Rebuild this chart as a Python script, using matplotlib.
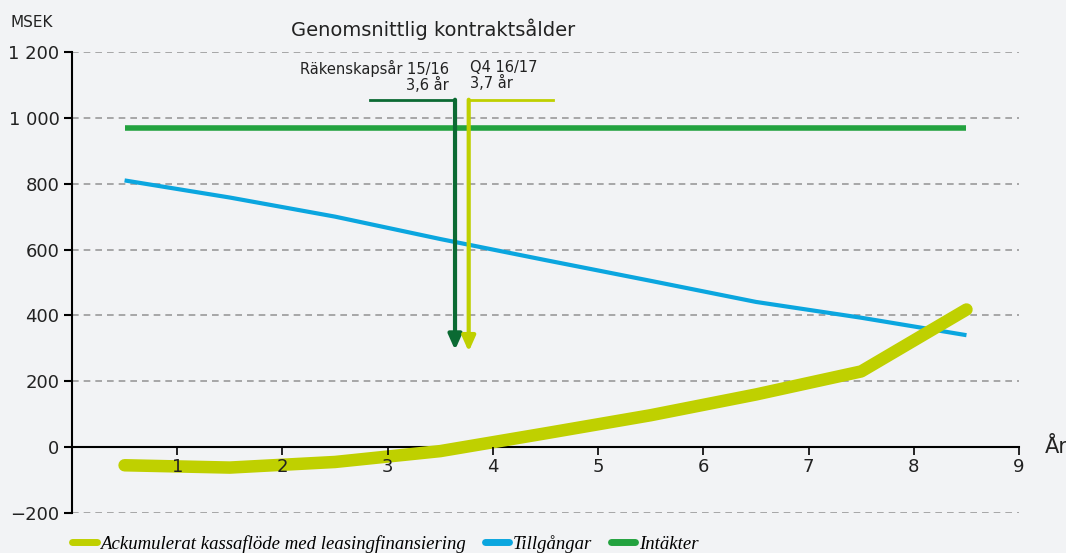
import matplotlib
matplotlib.use("Agg")
import matplotlib.pyplot as plt
from matplotlib.lines import Line2D

# data
years = [0.5, 1.5, 2.5, 3.5, 4.5, 5.5, 6.5, 7.5, 8.5]
kassaflode = [-55, -62, -45, -12, 42, 97, 160, 230, 418]
tillgangar = [810, 758, 700, 632, 568, 505, 441, 393, 340]
intakter = [970, 970, 970, 970, 970, 970, 970, 970, 970]
yticks = [-200, 0, 200, 400, 600, 800, 1000, 1200]
ytick_labels = ["\u2212200", "0", "200", "400", "600", "800", "1 000", "1 200"]
xticks = [1, 2, 3, 4, 5, 6, 7, 8, 9]
alder_fy = 3.64   # Räkenskapsår 15/16, 3,6 år (as drawn)
alder_q4 = 3.77   # Q4 16/17, 3,7 år (as drawn)

bg = "#f2f3f5"
c_kassa = "#bfd000"
c_till = "#0ba6df"
c_int = "#23a23f"
c_dark = "#0b6a33"

fig = plt.figure(figsize=(10.66, 5.53), dpi=100, facecolor=bg)
ax = fig.add_axes([0.0675, 0.0723, 0.8885, 0.8337], facecolor=bg)

ax.set_xlim(0, 9)
ax.set_ylim(-200, 1200)

for y in yticks:
    if y != 0:
        ax.axhline(y, color="#9a9a9a", lw=1.2, ls=(0, (4, 3)), zorder=1)

ax.plot(years, intakter, color=c_int, lw=4, solid_capstyle="butt", zorder=3)
ax.plot(years, tillgangar, color=c_till, lw=3, solid_capstyle="butt", zorder=3)
ax.plot(years, kassaflode, color=c_kassa, lw=9, solid_capstyle="round", zorder=4)

# contract age arrows
ax.plot([2.83, alder_fy], [1055, 1055], color=c_dark, lw=2, zorder=5,
        solid_capstyle="projecting")
ax.annotate("", xy=(alder_fy, 295), xytext=(alder_fy, 1055),
            arrowprops=dict(arrowstyle="-|>,head_width=0.4,head_length=0.9",
                            color=c_dark, lw=3, shrinkA=0, shrinkB=0), zorder=5)
ax.plot([alder_q4, 4.57], [1055, 1055], color=c_kassa, lw=2, zorder=5,
        solid_capstyle="projecting")
ax.annotate("", xy=(alder_q4, 290), xytext=(alder_q4, 1055),
            arrowprops=dict(arrowstyle="-|>,head_width=0.4,head_length=0.9",
                            color=c_kassa, lw=3, shrinkA=0, shrinkB=0), zorder=5)

ax.text(3.58, 1175, "Räkenskapsår 15/16\n3,6 år", ha="right", va="top",
        fontsize=10.5, linespacing=0.95, color="#222222")
ax.text(3.78, 1175, "Q4 16/17\n3,7 år", ha="left", va="top",
        fontsize=10.5, linespacing=0.95, color="#222222")

# axes styling
for s in ["top", "right"]:
    ax.spines[s].set_visible(False)
ax.spines["bottom"].set_position(("data", 0))
ax.spines["bottom"].set_linewidth(1.5)
ax.spines["left"].set_linewidth(1.5)
ax.set_yticks(yticks)
ax.set_yticklabels(ytick_labels, fontsize=13, color="#222222")
ax.set_xticks(xticks)
ax.set_xticklabels([str(x) for x in xticks], fontsize=13, color="#222222")
ax.tick_params(axis="y", length=6, width=1.5, pad=3)
ax.tick_params(axis="x", length=6, width=1.2, pad=2)
ax.xaxis.set_zorder(6)

fig.text(0.0094, 0.96, "MSEK", fontsize=11, color="#222222", va="center")
fig.text(0.406, 0.947, "Genomsnittlig kontraktsålder", fontsize=14,
         color="#222222", ha="center", va="center")
ax.text(9.35, 0, "År", fontsize=15, ha="center", va="center", color="#222222")

handles = [Line2D([], [], color=c_kassa, lw=5, solid_capstyle="round"),
           Line2D([], [], color=c_till, lw=5, solid_capstyle="round"),
           Line2D([], [], color=c_int, lw=5, solid_capstyle="round")]
labels = ["Ackumulerat kassaflöde med leasingfinansiering", "Tillgångar", "Intäkter"]
leg = fig.legend(handles, labels, loc="lower left", bbox_to_anchor=(0.052, -0.03),
                 ncol=3, frameon=False, handlelength=1.3, handletextpad=0.2,
                 columnspacing=1.0, prop=dict(family="Liberation Serif",
                                              style="italic", size=13.5))

fig.savefig("out.png", dpi=100, facecolor=bg)
